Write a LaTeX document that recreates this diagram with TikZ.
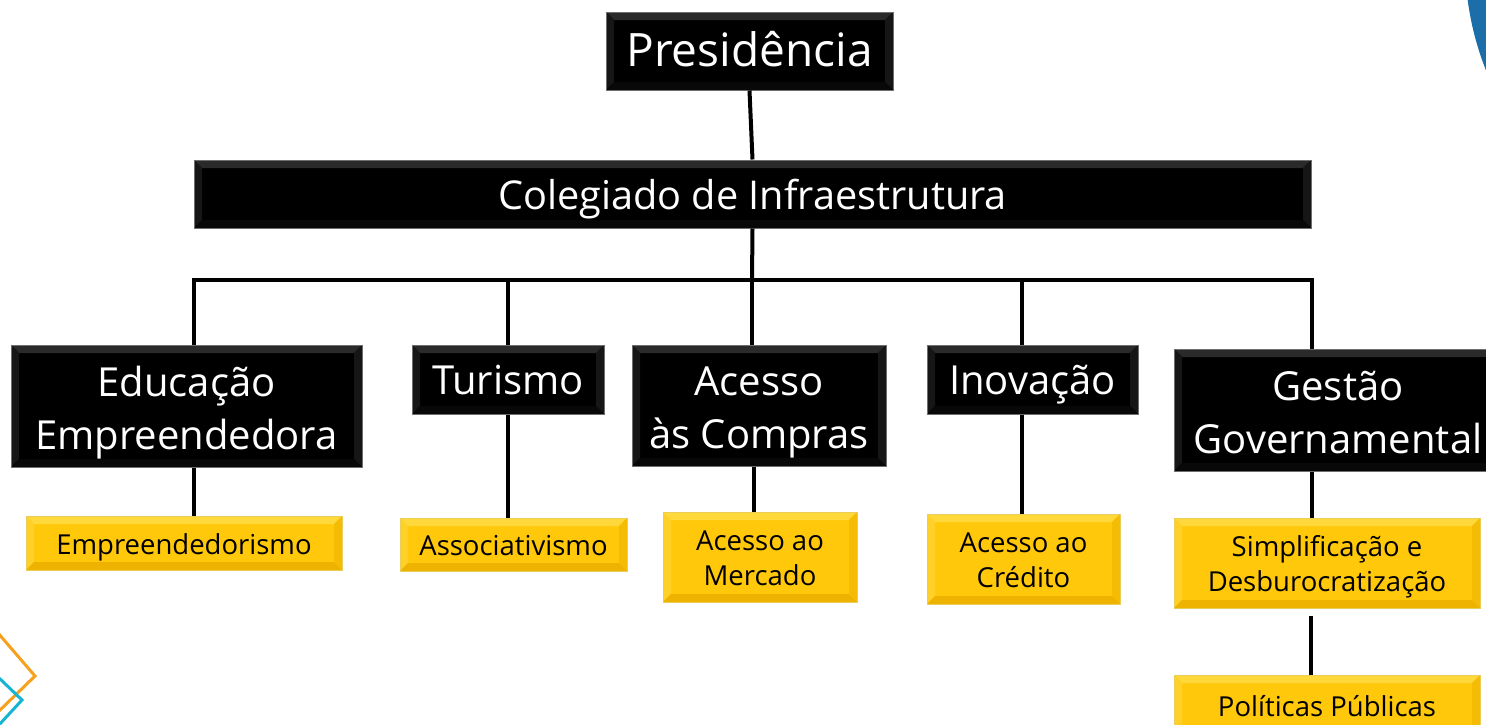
\documentclass[tikz,border=0pt]{standalone}
\usepackage{fontspec}
\setmainfont{Open Sans}
\definecolor{decoblue}{RGB}{27,110,168}
\definecolor{decoorange}{RGB}{247,160,30}
\definecolor{decocyan}{RGB}{20,180,210}
\definecolor{boxedge}{RGB}{110,110,110}
\definecolor{goldmid}{RGB}{255,200,10}
\definecolor{goldtop}{RGB}{255,216,60}
\definecolor{goldside}{RGB}{255,208,40}
\definecolor{goldright}{RGB}{245,188,5}
\definecolor{goldbot}{RGB}{238,178,0}
\definecolor{goldedge}{RGB}{235,205,90}
\definecolor{blktop}{RGB}{42,42,42}
\definecolor{blkside}{RGB}{22,22,22}
\definecolor{blkbot}{RGB}{8,8,8}
\newcommand\dn[2]{\raisebox{-#1}[\height][\depth]{\begin{tabular}{@{}c@{}}#2\end{tabular}}}
\begin{document}
\begin{tikzpicture}[x=1pt,y=-1pt,
  bevel/.style n args={4}{path picture={
    \coordinate (bnw) at (path picture bounding box.north west);
    \coordinate (bne) at (path picture bounding box.north east);
    \coordinate (bsw) at (path picture bounding box.south west);
    \coordinate (bse) at (path picture bounding box.south east);
    \coordinate (inw) at ([shift={(8pt,-8pt)}]bnw);
    \coordinate (ine) at ([shift={(-8pt,-8pt)}]bne);
    \coordinate (isw) at ([shift={(8pt,8pt)}]bsw);
    \coordinate (ise) at ([shift={(-8pt,8pt)}]bse);
    \fill[#1] (bnw) -- (bne) -- (ine) -- (inw) -- cycle;
    \fill[#2] (bnw) -- (inw) -- (isw) -- (bsw) -- cycle;
    \fill[#3] (bne) -- (ine) -- (ise) -- (bse) -- cycle;
    \fill[#4] (bsw) -- (isw) -- (ise) -- (bse) -- cycle;
  }},
  blackbox/.style={rectangle,fill=black,draw=boxedge,line width=1pt,text=white,align=center,inner sep=0pt,bevel={blktop}{blkside}{blkside}{blkbot}},
  goldbox/.style={rectangle,fill=goldmid,draw=goldedge,line width=1pt,text=black,align=center,inner sep=0pt,font=\fontsize{27.5}{35}\selectfont,bevel={goldtop}{goldside}{goldright}{goldbot}},
  bigtxt/.style={font=\fontsize{40}{53}\selectfont},
  conn/.style={draw=black,line width=4pt}]
\useasboundingbox (0,0) rectangle (1486,724);
\begin{scope}
\clip (0,0) rectangle (1486,724);
% decorations
\fill[decoblue] (1765,-40) circle (300);
\draw[decoorange,line width=3pt] (-2,633) -- (35,676) -- (-2,712);
\draw[decocyan,line width=3pt] (-2,677) -- (22,700) -- (-2,726);

% nodes
\node[blackbox,minimum width=287,minimum height=78,font=\fontsize{46}{55}\selectfont] (pres) at (749.5,51) {\dn{4pt}{Presidência}};
\node[blackbox,minimum width=1117,minimum height=68,font=\fontsize{39.7}{50}\selectfont] (coleg) at (752.5,194) {\dn{5pt}{Colegiado de Infraestrutura}};

\node[blackbox,bigtxt,minimum width=351,minimum height=122] (educ) at (186.5,406) {\dn{6pt}{Educação\\Empreendedora}};
\node[blackbox,bigtxt,minimum width=192,minimum height=69] (tur) at (508,379.5) {\dn{4pt}{Turismo}};
\node[blackbox,bigtxt,minimum width=254,minimum height=121] (compras) at (759,405.5) {\dn{6pt}{Acesso\\às Compras}};
\node[blackbox,bigtxt,minimum width=211,minimum height=69] (inov) at (1032.5,379.5) {\dn{4pt}{Inovação}};
\node[blackbox,bigtxt,minimum width=328,minimum height=122] (gest) at (1338,410) {\dn{6pt}{Gestão\\Governamental}};

\node[goldbox,minimum width=316,minimum height=54] (empr) at (184,543) {\dn{4pt}{Empreendedorismo}};
\node[goldbox,minimum width=227,minimum height=53] (assoc) at (513.5,544.5) {\dn{4pt}{Associativismo}};
\node[goldbox,minimum width=194,minimum height=90] (merc) at (760,557) {\dn{4pt}{Acesso ao\\Mercado}};
\node[goldbox,minimum width=193,minimum height=90] (cred) at (1023.5,559) {\dn{4pt}{Acesso ao\\Crédito}};
\node[goldbox,minimum width=306,minimum height=90] (simp) at (1327,563) {\dn{4pt}{Simplificação e\\Desburocratização}};
\node[goldbox,minimum width=306,minimum height=60] (polit) at (1327,705) {\dn{4pt}{Políticas Públicas}};

\coordinate (bus) at (752,280);

% connectors
\draw[conn] (pres.south) -- (coleg.north);
\draw[conn] (coleg.south) -- (bus);
\draw[conn] (coleg.west |- educ.north) |- (coleg.east |- bus) -- (coleg.east |- gest.north);
\draw[conn] (tur.north) -- (tur.north |- bus);
\draw[conn] ([xshift=-7pt]compras.north) -- (bus);
\draw[conn] ([xshift=-10.5pt]inov.north) -- ([xshift=-10.5pt]inov.north |- bus);

\draw[conn] ([xshift=7.5pt]educ.south) -- ([xshift=7.5pt]educ.south |- empr.north);
\draw[conn] (tur.south) -- (tur.south |- assoc.north);
\draw[conn] ([xshift=-5pt]compras.south) -- ([xshift=-5pt]compras.south |- merc.north);
\draw[conn] ([xshift=-10.5pt]inov.south) -- ([xshift=-10.5pt]inov.south |- cred.north);
\draw[conn] ([xshift=-26pt]gest.south) -- ([xshift=-26pt]gest.south |- simp.north);
\draw[conn] ([xshift=-16pt,yshift=-7pt]simp.south) -- ([xshift=-16pt]simp.south |- polit.north);
\end{scope}
\end{tikzpicture}
\end{document}
